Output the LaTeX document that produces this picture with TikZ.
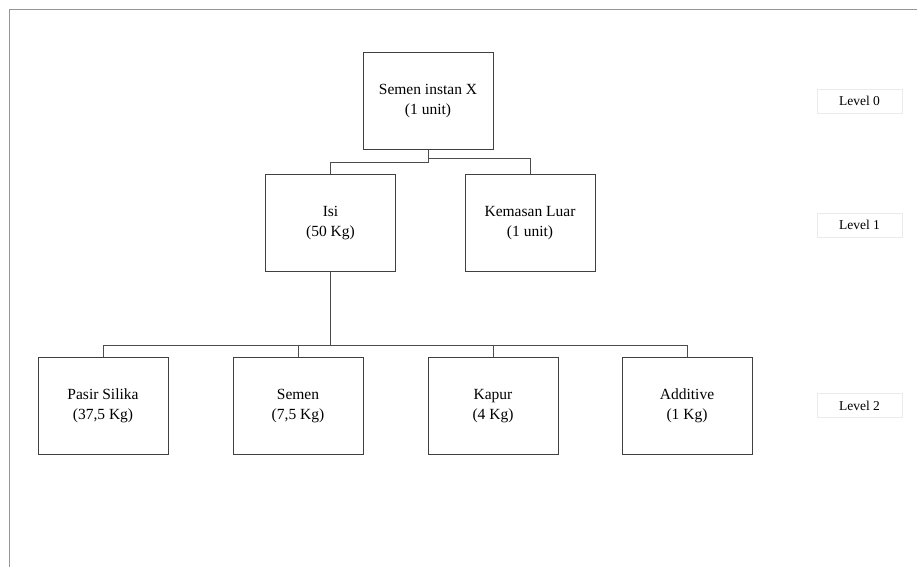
\documentclass[tikz,border=0pt]{standalone}
\usepackage{fontspec}
\setmainfont{Liberation Serif}
\begin{document}
\begin{tikzpicture}[x=1pt,y=-1pt,
  item/.style={draw=black!75, line width=0.9pt, fill=white, minimum width=130pt, minimum height=97pt, align=center, font=\fontsize{15.5}{20}\selectfont, inner sep=0pt},
  lvl/.style={draw=black!8, line width=0.8pt, minimum width=85pt, minimum height=24pt, font=\fontsize{13.5}{16}\selectfont, inner sep=0pt},
  conn/.style={draw=black!70, line width=0.9pt}]
\useasboundingbox (0,0) rectangle (917,567);
\fill[white] (0,0) rectangle (917,567);
\draw[color={rgb,255:red,122;green,160;blue,165}, line width=1.6pt] (9.5,567) -- (9.5,9.5) -- (917,9.5);
\node[item] (top) at (428,101) {Semen instan X\\(1 unit)};
\node[item] (isi) at (330.5,223) {Isi\\(50 Kg)};
\node[item] (kem) at (530,223) {Kemasan Luar\\(1 unit)};
\node[item] (b1) at (103,406) {Pasir Silika\\(37,5 Kg)};
\node[item] (b2) at (298,406) {Semen\\(7,5 Kg)};
\node[item] (b3) at (493,406) {Kapur\\(4 Kg)};
\node[item] (b4) at (687,406) {Additive\\(1 Kg)};
\node[lvl] (l0) at (859.5,101) {Level 0};
\node[lvl] (l1) at (859.5,225) {Level 1};
\node[lvl] (l2) at (859.5,405.5) {Level 2};
\draw[conn] (top.south) -- (top.south |- 0,162) -| (isi.north);
\draw[conn] (top.south |- 0,158) -| (kem.north);
\draw[conn] (isi.south) -- (isi.south |- 0,345);
\draw[conn] (b1.north) -- (b1.north |- 0,345) -- (b4.north |- 0,345) -- (b4.north);
\draw[conn] (b2.north) -- (b2.north |- 0,345);
\draw[conn] (b3.north) -- (b3.north |- 0,345);
\end{tikzpicture}
\end{document}
